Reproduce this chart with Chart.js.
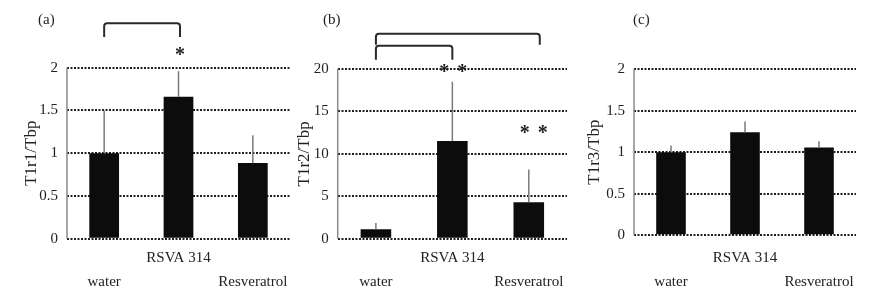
<!DOCTYPE html>
<html>
<head>
<meta charset="utf-8">
<script src="https://cdn.jsdelivr.net/npm/chart.js@4"></script>
<style>
  html, body { margin: 0; padding: 0; background: #fff; }
  #wrap { position: relative; width: 871px; height: 290px; }
  canvas { position: absolute; left: 0; top: 0; }
</style>
</head>
<body>
<div id="wrap">
  <canvas id="ca" width="871" height="290"></canvas>
  <canvas id="cb" width="871" height="290"></canvas>
  <canvas id="cc" width="871" height="290"></canvas>
</div>
<script>
// ---- data ----
const categories = ['water', 'RSVA 314', 'Resveratrol'];
const t1r1Values = [1.0, 1.66, 0.885];
const t1r1Upper  = [1.5, 1.96, 1.21];
const t1r2Values = [1.1, 11.5, 4.3];
const t1r2Upper  = [1.85, 18.5, 8.15];
const t1r3Values = [1.0, 1.24, 1.055];
const t1r3Upper  = [1.08, 1.37, 1.13];
const ticksA = [0, 0.5, 1, 1.5, 2];
const ticksB = [0, 5, 10, 15, 20];
const ticksC = [0, 0.5, 1, 1.5, 2];
const yTitles = ['T1r1/Tbp', 'T1r2/Tbp', 'T1r3/Tbp'];
const panelLabels = ['(a)', '(b)', '(c)'];

const SERIF = '"Liberation Serif", "Times New Roman", serif';

const plugin = {
  id: 'extras',
  afterDatasetsDraw(chart, args, o) {
    const ctx = chart.ctx;
    const ys = chart.scales.y;
    const meta = chart.getDatasetMeta(0);
    const ca = chart.chartArea;
    ctx.save();
    // y axis line
    ctx.strokeStyle = '#8a8a8a';
    ctx.lineWidth = 1.5;
    ctx.beginPath();
    ctx.moveTo(ca.left, ys.getPixelForValue(ys.max));
    ctx.lineTo(ca.left, ys.getPixelForValue(0));
    ctx.stroke();
    // error bars
    ctx.strokeStyle = '#7a7a7a';
    ctx.lineWidth = 1.5;
    o.upper.forEach((u, i) => {
      const x = meta.data[i].x;
      ctx.beginPath();
      ctx.moveTo(x, ys.getPixelForValue(o.values[i]));
      ctx.lineTo(x, ys.getPixelForValue(u));
      ctx.stroke();
    });
    // brackets
    ctx.strokeStyle = '#2a2a2a';
    ctx.lineWidth = 2;
    ctx.lineJoin = 'round';
    (o.brackets || []).forEach(b => {
      const x1 = meta.data[b.from].x + (b.dx1 || 0);
      const x2 = meta.data[b.to].x + (b.dx2 || 0);
      const yt = ys.getPixelForValue(b.top);
      const ye = ys.getPixelForValue(b.end);
      const r = 3;
      ctx.beginPath();
      ctx.moveTo(x1, ye);
      ctx.arcTo(x1, yt, x1 + r, yt, r);
      ctx.arcTo(x2, yt, x2, yt + r, r);
      ctx.lineTo(x2, ye);
      ctx.stroke();
    });
    // stars
    ctx.fillStyle = '#222';
    ctx.font = 'bold 20px ' + SERIF;
    ctx.textAlign = 'center';
    ctx.textBaseline = 'alphabetic';
    (o.stars || []).forEach(s => {
      const x = meta.data[s.at].x + s.dx;
      const y = ys.getPixelForValue(s.level);
      ctx.fillText('*', x, y + 10);
    });
    // panel label
    ctx.fillStyle = '#222';
    ctx.font = '15px ' + SERIF;
    ctx.textAlign = 'left';
    ctx.textBaseline = 'middle';
    ctx.fillText(o.label, o.labelX, 20);
    ctx.restore();
  }
};

function makeChart(id, values, upper, ticks, title, label, geo, extra) {
  const maxV = ticks[ticks.length - 1];
  return new Chart(document.getElementById(id), {
    type: 'bar',
    data: {
      labels: categories,
      datasets: [{
        data: values,
        backgroundColor: '#0c0c0c',
        borderWidth: 0,
        barPercentage: 0.4,
        categoryPercentage: 1.0
      }]
    },
    options: {
      responsive: false,
      animation: false,
      events: [],
      layout: { padding: { left: geo.left, right: geo.right, top: geo.top, bottom: 0 } },
      plugins: {
        legend: { display: false },
        tooltip: { enabled: false },
        extras: Object.assign({ values, upper, label, labelX: geo.labelX }, extra)
      },
      scales: {
        x: {
          offset: true,
          grid: { display: false, drawTicks: false },
          border: { display: false },
          afterFit: s => { s.height = geo.xh; },
          ticks: {
            padding: geo.xpad,
            color: '#222',
            font: { family: SERIF, size: 15, lineHeight: 1.6 },
            maxRotation: 0,
            autoSkip: false,
            callback: (v, i) => i === 1 ? categories[i] : ['', categories[i]]
          }
        },
        y: {
          min: 0,
          max: maxV,
          afterFit: s => { s.width = geo.yw; },
          afterBuildTicks: s => { s.ticks = ticks.map(v => ({ value: v })); },
          grid: { color: '#1e1e1e', lineWidth: 2, drawTicks: false },
          border: { display: false, dash: [2, 1.5] },
          ticks: {
            padding: 9,
            color: '#222',
            font: { family: SERIF, size: 15 },
            callback: v => String(v)
          },
          title: {
            display: true,
            text: title,
            color: '#222',
            font: { family: SERIF, size: 17, lineHeight: 1.2 },
            padding: { top: 4.5, bottom: 0 }
          }
        }
      }
    },
    plugins: [plugin]
  });
}

makeChart('ca', t1r1Values, t1r1Upper, ticksA, yTitles[0], panelLabels[0],
  { left: 17, yw: 50, right: 581, top: 67.7, xh: 51.3, xpad: 7, labelX: 38 },
  {
    brackets: [{ from: 0, to: 1, top: 2.52, end: 2.36, dx1: 0, dx2: 1.5 }],
    stars: [{ at: 1, dx: 1.5, level: 2.19 }]
  });

makeChart('cb', t1r2Values, t1r2Upper, ticksB, yTitles[1], panelLabels[1],
  { left: 290, yw: 47.7, right: 304, top: 69, xh: 51.3, xpad: 7, labelX: 323 },
  {
    brackets: [
      { from: 0, to: 1, top: 22.75, end: 21.1, dx1: 0, dx2: 0 },
      { from: 0, to: 2, top: 24.15, end: 22.86, dx1: 0, dx2: 11 }
    ],
    stars: [
      { at: 1, dx: -8, level: 20.1 },
      { at: 1, dx: 10, level: 20.1 },
      { at: 2, dx: -4, level: 12.93 },
      { at: 2, dx: 14, level: 12.93 }
    ]
  });

makeChart('cc', t1r3Values, t1r3Upper, ticksC, yTitles[2], panelLabels[2],
  { left: 580, yw: 54, right: 15, top: 69, xh: 54.7, xpad: 10.5, labelX: 633 },
  {});
</script>
</body>
</html>
